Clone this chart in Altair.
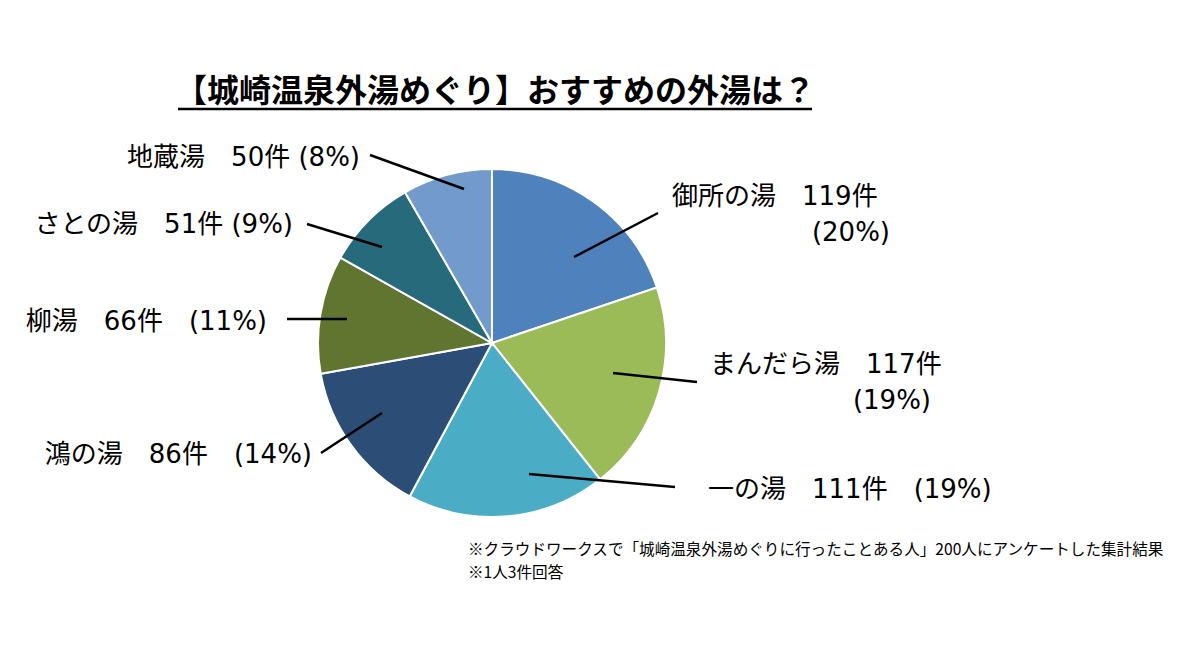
import altair as alt
import pandas as pd

# ---- data ----
names = ["御所の湯", "まんだら湯", "一の湯", "鴻の湯", "柳湯", "さとの湯", "地蔵湯"]
counts = [119, 117, 111, 86, 66, 51, 50]
percents = [20, 19, 19, 14, 11, 9, 8]
colors = ["#4F81BD", "#9BBB59", "#4BACC6", "#2C4D75", "#5F7530", "#276A7C", "#729ACA"]

title_text = "【城崎温泉外湯めぐり】おすすめの外湯は？"
notes = ["※クラウドワークスで「城崎温泉外湯めぐりに行ったことある人」200人にアンケートした集計結果",
         "※1人3件回答"]

# ---- layout (pixels) ----
W, H = 1200, 650
CX, CY, R = 492, 343, 174
FONT = "DejaVu Sans, Noto Sans CJK JP"
FONT_CJK = "Noto Sans CJK JP"
line_start = [(574, 257), (613, 373), (529, 474), (382, 413), (347, 319), (382, 247), (464, 189)]
line_end = [(658, 213), (697, 382), (675, 487), (321, 453), (287, 319), (307, 224), (370, 155)]

pie_df = pd.DataFrame({"name": names, "count": counts, "order": list(range(len(names)))})

xs = alt.Scale(domain=[0, W], range=[0, W])
ys = alt.Scale(domain=[0, H], range=[0, H])

pie = alt.Chart(pie_df).mark_arc(outerRadius=R, stroke="white", strokeWidth=2).encode(
    theta=alt.Theta("count:Q", stack=True),
    order=alt.Order("order:Q"),
    color=alt.Color("name:N", scale=alt.Scale(domain=names, range=colors), legend=None),
    x=alt.value(CX), y=alt.value(CY),
)

lines_df = pd.DataFrame({
    "x": [p[0] for p in line_start], "y": [p[1] for p in line_start],
    "x2": [p[0] for p in line_end], "y2": [p[1] for p in line_end],
})
leaders = alt.Chart(lines_df).mark_rule(color="black", strokeWidth=2.5).encode(
    x=alt.X("x:Q", scale=xs, axis=None), y=alt.Y("y:Q", scale=ys, axis=None),
    x2="x2:Q", y2="y2:Q",
)

# labels
left_rows = []
right_rows = []
# right-side labels (left aligned)
left_rows.append({"t": f"{names[0]}　{counts[0]}件", "x": 672, "y": 197})
right_rows.append({"t": f"({percents[0]}%)", "x": 890, "y": 233})
left_rows.append({"t": f"{names[1]}　{counts[1]}件", "x": 710, "y": 365})
right_rows.append({"t": f"({percents[1]}%)", "x": 931, "y": 401})
left_rows.append({"t": f"{names[2]}　{counts[2]}件　({percents[2]}%)", "x": 708, "y": 490})
# left-side labels (right aligned)
right_rows.append({"t": f"{names[3]}　{counts[3]}件　({percents[3]}%)", "x": 312, "y": 455})
right_rows.append({"t": f"{names[4]}　{counts[4]}件　({percents[4]}%)", "x": 267, "y": 322})
right_rows.append({"t": f"{names[5]}　{counts[5]}件 ({percents[5]}%)", "x": 293, "y": 225})
right_rows.append({"t": f"{names[6]}　{counts[6]}件 ({percents[6]}%)", "x": 360, "y": 158})

def text_layer(rows, align, size, weight="normal", font=FONT):
    return alt.Chart(pd.DataFrame(rows)).mark_text(
        align=align, baseline="middle", font=font, fontSize=size, fontWeight=weight, color="black"
    ).encode(
        x=alt.X("x:Q", scale=xs, axis=None), y=alt.Y("y:Q", scale=ys, axis=None), text="t:N"
    )

lab_left = text_layer(left_rows, "left", 26)
lab_right = text_layer(right_rows, "right", 26)

title = text_layer([{"t": title_text, "x": 495, "y": 92}], "center", 32, "bold", FONT_CJK)
underline = alt.Chart(pd.DataFrame({"x": [178], "x2": [812], "y": [109]})).mark_rule(
    color="black", strokeWidth=2.5
).encode(x=alt.X("x:Q", scale=xs, axis=None), x2="x2:Q", y=alt.Y("y:Q", scale=ys, axis=None))

foot = text_layer([{"t": notes[0], "x": 468, "y": 550}, {"t": notes[1], "x": 468, "y": 573}],
                  "left", 15.6, "normal", FONT_CJK)

chart = alt.layer(pie, leaders, lab_left, lab_right, title, underline, foot).properties(
    width=W, height=H, padding=0, autosize="none", background="white"
).configure_view(stroke=None)

chart.save("out.html", embed_options={"renderer": "svg", "actions": False})
